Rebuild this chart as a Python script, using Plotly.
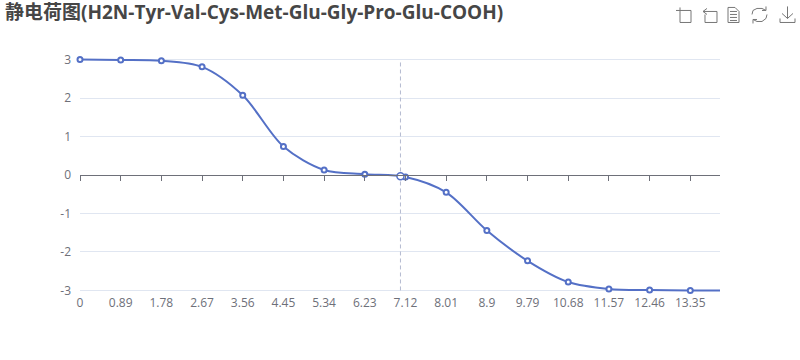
import plotly.graph_objects as go

title = "静电荷图(H2N-Tyr-Val-Cys-Met-Glu-Gly-Pro-Glu-COOH)"
ph = [0, 0.89, 1.78, 2.67, 3.56, 4.45, 5.34, 6.23, 7.12, 8.01, 8.9, 9.79, 10.68, 11.57, 12.46, 13.35, 14]
tick_labels = ["0", "0.89", "1.78", "2.67", "3.56", "4.45", "5.34", "6.23", "7.12", "8.01", "8.9", "9.79", "10.68", "11.57", "12.46", "13.35"]
charge = [3.0, 2.99, 2.97, 2.81, 2.07, 0.74, 0.13, 0.02, -0.05, -0.45, -1.44, -2.23, -2.78, -2.96, -2.99, -3.0, -3.0]
pi_x = [7.01]
pi_y = [-0.03]
y_ticks = [-3, -2, -1, 0, 1, 2, 3]
y_labels = ["-3", "-2", "-1", "0", "1", "2", "3"]

W, H = 800, 360
PAD = 1.54  # px of room beyond +-3 so that the outer gridlines are kept
L, R, T, B = 80, 80, 60 - PAD, 69.5 - PAD
BLUE = "#5470C6"
FONT = "Open Sans, Noto Sans CJK SC, sans-serif"
GREY = "#6E7079"

def px(x):
    return (x - L) / (W - L - R)
def py(y):
    return 1 - (y - T) / (H - T - B)

def icon(points, close=False):
    d = "M " + " L ".join(f"{px(a):.5f},{py(b):.5f}" for a, b in points)
    if close:
        d += " Z"
    return dict(type="path", xref="paper", yref="paper", path=d,
                line=dict(color="#777777", width=1), layer="above")

icons = [
    icon([(676, 11), (691, 11), (691, 23), (680, 23), (680, 8)]),
    icon([(707, 9), (703, 12), (707, 15)]),
    icon([(703, 12), (717, 12), (717, 23), (705, 23), (705, 15)]),
    icon([(728, 8), (735, 8), (739, 12), (739, 23), (728, 23)], True),
    icon([(730, 12), (737, 12)]), icon([(730, 15), (737, 15)]), icon([(730, 18), (737, 18)]), icon([(730, 21), (737, 21)]),
    icon([(752, 15), (753, 11), (757, 9), (762, 9), (766, 11)]),
    icon([(767, 15), (766, 19), (762, 22), (757, 22), (753, 20)]),
    icon([(766, 7), (766, 11), (762, 11)]),
    icon([(753, 24), (753, 20), (757, 20)]),
    icon([(787.5, 7), (787.5, 19)]),
    icon([(782, 14), (787.5, 19), (793, 14)]),
    icon([(780, 19), (780, 23), (795, 23), (795, 19)]),
]

YR = 3 + PAD / 38.42

fig = go.Figure()
fig.add_trace(go.Scatter(
    x=ph, y=charge, mode="lines", cliponaxis=False, showlegend=False,
    line=dict(color=BLUE, width=2, shape="spline", smoothing=0.9),
))
fig.add_trace(go.Scatter(
    x=ph[:-1], y=charge[:-1], mode="markers", cliponaxis=False, showlegend=False,
    marker=dict(symbol="circle", size=5, color="#ffffff", line=dict(color=BLUE, width=2)),
))
fig.add_trace(go.Scatter(
    x=pi_x, y=pi_y, mode="markers", cliponaxis=False, showlegend=False,
    marker=dict(symbol="circle", size=7, color="#ffffff", line=dict(color=BLUE, width=1.5)),
))
# carrier of the axis line and ticks that sit at zero charge
fig.add_trace(go.Scatter(x=[0, 14], y=[0, 0], xaxis="x2", mode="none", showlegend=False, hoverinfo="skip"))

fig.update_layout(
    width=W, height=H, autosize=False,
    margin=dict(l=L, r=R, t=T, b=B),
    paper_bgcolor="#ffffff", plot_bgcolor="#ffffff",
    font=dict(family=FONT, size=12, color=GREY),
    title=dict(text=f"<b>{title}</b>", x=5 / W, xref="container", xanchor="left",
               y=1 - 12.5 / H, yanchor="middle", font=dict(size=19, color="#464646", family=FONT)),
    xaxis=dict(range=[0, 14], tickmode="array", tickvals=ph[:-1], ticktext=tick_labels,
               showgrid=False, zeroline=False, showline=False, ticks="", ticklabelstandoff=2,
               tickangle=0, tickfont=dict(size=12, color=GREY)),
    xaxis2=dict(range=[0, 14], overlaying="x", anchor="free", position=0.5, side="bottom",
                tickmode="array", tickvals=ph[:-1], showticklabels=False, ticks="outside",
                ticklen=5, tickwidth=1, tickcolor=GREY, showline=True, linecolor=GREY, linewidth=1,
                showgrid=False, zeroline=False),
    yaxis=dict(range=[-YR, YR], tickmode="array", tickvals=y_ticks, ticktext=y_labels,
               showgrid=True, gridcolor="#E0E6F1",
               gridwidth=1, zeroline=False, showline=False, ticks="", ticklabelstandoff=8,
               tickfont=dict(size=12, color=GREY)),
    shapes=[dict(type="line", xref="x", yref="y", x0=pi_x[0], x1=pi_x[0], y0=-3, y1=3,
                 line=dict(color="#B4BAD0", width=1, dash="4px,3px"), layer="between")] + icons,
)
fig.write_html("out.html", config={"displayModeBar": False},
               post_script="document.body.style.margin='0';")
